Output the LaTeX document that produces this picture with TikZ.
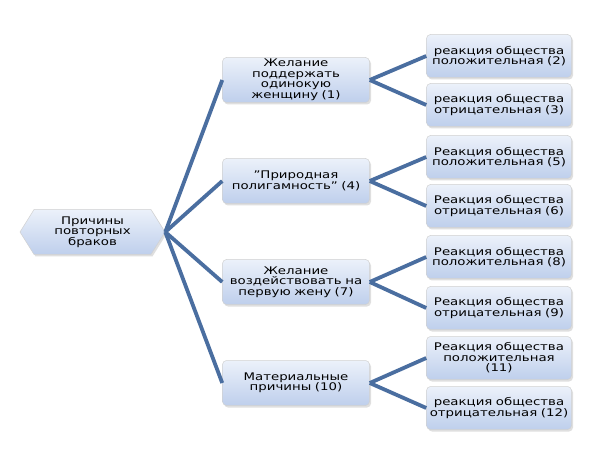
\documentclass[tikz,border=0pt]{standalone}
\usepackage{fontspec}
\setmainfont{DejaVu Sans}[FakeStretch=1.27]
\usetikzlibrary{shadows,shapes.symbols}
\begin{document}
\begin{tikzpicture}[x=1pt,y=-1pt,
  box/.style={draw=black!18, line width=0.5pt, rounded corners=4pt,
    top color=blue!6!white, bottom color=blue!45!cyan!22!white!85!black!0,
    drop shadow={shadow xshift=1.5pt, shadow yshift=-2pt, opacity=0.25},
    align=center, inner sep=1pt,
    font=\fontsize{10.5}{10.5}\selectfont},
  midbox/.style={box, minimum width=147pt, minimum height=45pt, text width=140pt},
  leafbox/.style={box, minimum width=145pt, minimum height=43pt, text width=140pt},
  link/.style={draw=conn, line width=3.8pt}
]
\definecolor{conn}{RGB}{74,110,160}
\definecolor{boxtop}{RGB}{236,241,250}
\definecolor{boxbot}{RGB}{190,207,236}
\tikzset{box/.append style={top color=boxtop, bottom color=boxbot}}
\useasboundingbox[fill=white] (0,0) rectangle (600,473);

% mid boxes
\node[midbox] (m1) at (296,80) {Желание\\поддержать\\одинокую\\женщину (1)};
\node[midbox] (m2) at (296,181) {"Природная\\полигамность" (4)};
\node[midbox] (m3) at (296,282) {Желание\\воздействовать на\\первую жену (7)};
\node[midbox] (m4) at (296,383) {Материальные\\причины (10)};

% leaf boxes
\node[leafbox] (l1) at (499,56) {реакция общества\\положительная (2)};
\node[leafbox] (l2) at (499,105) {реакция общества\\отрицательная (3)};
\node[leafbox] (l3) at (499,157) {Реакция общества\\положительная (5)};
\node[leafbox] (l4) at (499,206) {Реакция общества\\отрицательная (6)};
\node[leafbox] (l5) at (499,257) {Реакция общества\\положительная (8)};
\node[leafbox] (l6) at (499,308) {Реакция общества\\отрицательная (9)};
\node[leafbox] (l7) at (499,358) {Реакция общества\\положительная\\(11)};
\node[leafbox] (l8) at (499,408) {реакция общества\\отрицательная (12)};

% root
\node[box, rounded corners=0pt, signal, signal to=east and west, signal pointer angle=116,
  minimum width=145pt, minimum height=45pt, text width=100pt, inner xsep=0pt] (root) at (92.5,232) {Причины\\повторных\\браков};

% connectors
\foreach \m in {m1,m2,m3,m4}{\draw[link] (root.east) -- (\m.west);}
\draw[link] (m1.east) -- (l1.west);
\draw[link] (m1.east) -- (l2.west);
\draw[link] (m2.east) -- (l3.west);
\draw[link] (m2.east) -- (l4.west);
\draw[link] (m3.east) -- (l5.west);
\draw[link] (m3.east) -- (l6.west);
\draw[link] (m4.east) -- (l7.west);
\draw[link] (m4.east) -- (l8.west);
\end{tikzpicture}
\end{document}
